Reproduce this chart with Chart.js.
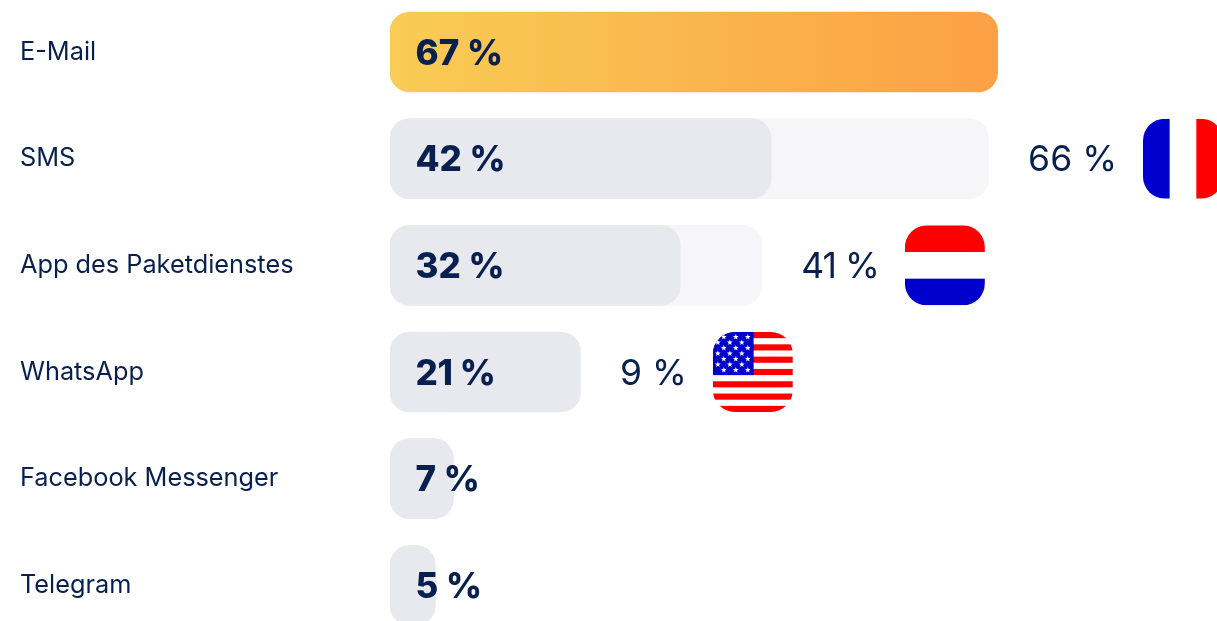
<!DOCTYPE html>
<html><head><meta charset="utf-8">
<script src="https://cdn.jsdelivr.net/npm/chart.js@4"></script>
<style>
html,body{margin:0;padding:0;background:#fff;overflow:hidden;width:1217px;height:621px}
#w{position:absolute;left:0;top:-20px;width:1217px;height:680px}
</style></head><body>
<div id="w"><canvas id="c" width="1217" height="680"></canvas></div>
<script>
const categories=['E-Mail','SMS','App des Paketdienstes','WhatsApp','Facebook Messenger','Telegram'];
const germanyValues=[67,42,32,21,7,5];
const comparisonValues=[null,66,41,9,null,null];
const comparisonFlags=[null,'fr','nl','us',null,null];
const ink='#08204f';
const fontFamily='Inter, sans-serif';

function rr(ctx,x,y,w,h,r){ctx.beginPath();ctx.roundRect(x,y,w,h,r);}
function star(ctx,cx,cy,r){ctx.beginPath();for(let i=0;i<10;i++){const a=-Math.PI/2+i*Math.PI/5,q=i%2?r*0.42:r;ctx.lineTo(cx+q*Math.cos(a),cy+q*Math.sin(a));}ctx.closePath();ctx.fill();}
function drawFlag(ctx,kind,x,y,s){
  ctx.save();rr(ctx,x,y,s,s,22);ctx.clip();
  ctx.fillStyle='#fff';ctx.fillRect(x,y,s,s);
  if(kind==='fr'){ctx.fillStyle='#0000cc';ctx.fillRect(x,y,s/3,s);ctx.fillStyle='#ff0000';ctx.fillRect(x+2*s/3,y,s/3,s);}
  if(kind==='nl'){ctx.fillStyle='#ff0000';ctx.fillRect(x,y,s,s/3);ctx.fillStyle='#0000cc';ctx.fillRect(x,y+2*s/3,s,s/3);}
  if(kind==='us'){
    ctx.fillStyle='#ff0000';for(let i=0;i<13;i+=2)ctx.fillRect(x,y+i*s/13,s,s/13);
    ctx.fillStyle='#0000cc';ctx.fillRect(x,y,s*0.51,s*7/13);
    ctx.fillStyle='#fff';
    for(let r=0;r<7;r++){for(let c=0;c<3;c++){star(ctx,x+(r%2?5:11)+c*12,y+5+r*5.5,3);}}
  }
  ctx.restore();
}
const annotate={id:'annotate',afterDatasetsDraw(chart){
  const {ctx,scales:{x,y}}=chart;
  ctx.save();ctx.textBaseline='middle';ctx.fillStyle=ink;
  categories.forEach((_,i)=>{
    const cy=y.getPixelForValue(i);
    ctx.fillStyle=ink;ctx.textAlign='left';
    ctx.font='800 35px '+fontFamily;
    const b=germanyValues[i]+' %';
    ctx.letterSpacing=b.includes('1')?'-0.4px':'0px';
    ctx.fillText(b,x.getPixelForValue(0)+25.5,cy+2);
    const v=comparisonValues[i];
    if(v!==null){
      const end=x.getPixelForValue(Math.max(v,germanyValues[i]));
      ctx.font='400 35.5px '+fontFamily;
      const t=v+' %',tx=end+39.5;
      ctx.letterSpacing=t.includes('1')?'-1px':'0px';
      ctx.fillText(t,tx,cy+2);
      const w=ctx.measureText(t).width;
      ctx.letterSpacing='0px';
      drawFlag(ctx,comparisonFlags[i],tx+w+26,cy-40,80);
    }
  });
  ctx.restore();
}};
new Chart(document.getElementById('c'),{
  type:'bar',
  data:{labels:categories,datasets:[
    {label:'Deutschland',data:germanyValues,order:1,grouped:false,barThickness:80,borderRadius:20,borderSkipped:false,
     backgroundColor(c){
       if(c.dataIndex!==0)return '#e8e9ef';
       const a=c.chart.chartArea,s=c.chart.scales.x;
       if(!a||!s)return '#f8c853';
       const g=c.chart.ctx.createLinearGradient(s.getPixelForValue(0),0,s.getPixelForValue(germanyValues[0]),0);
       g.addColorStop(0,'#f8cc55');g.addColorStop(1,'#fca044');return g;
     }},
    {label:'Vergleich',data:comparisonValues,order:2,grouped:false,barThickness:80,borderRadius:20,borderSkipped:false,backgroundColor:'#f6f6f9'}
  ]},
  plugins:[annotate],
  options:{
    indexAxis:'y',responsive:false,animation:false,
    layout:{padding:{left:20,right:0,top:18.67,bottom:21.33}},
    plugins:{legend:{display:false},tooltip:{enabled:false}},
    scales:{
      x:{display:false,min:0,max:91.18,grid:{display:false}},
      y:{grid:{display:false},border:{display:false},
         afterFit(s){s.width=370;},
         ticks:{crossAlign:'far',color:ink,padding:0,font:{family:fontFamily,size:25.3,weight:'400'}}}
    }
  }
});
</script></body></html>
